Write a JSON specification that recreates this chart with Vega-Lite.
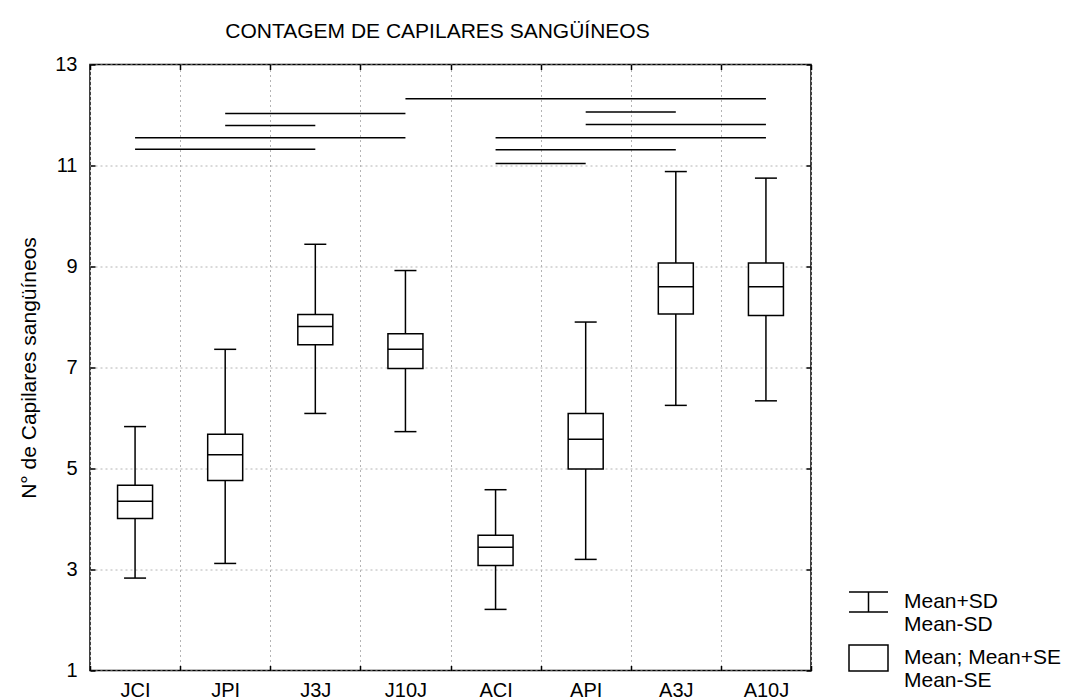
{
  "$schema": "https://vega.github.io/schema/vega-lite/v6.json",
  "width": 721,
  "height": 606,
  "autosize": "none",
  "padding": {"left": 90, "top": 64.5, "right": 255, "bottom": 28.5},
  "background": "white",
  "config": {
    "font": "Liberation Sans",
    "view": {"stroke": "black", "strokeWidth": 1.5},
    "axis": {
      "domain": false,
      "labelColor": "black",
      "labelFontSize": 20,
      "labelFont": "Liberation Sans",
      "tickColor": "black",
      "tickWidth": 1.5,
      "tickSize": -5,
      "gridColor": "#b4b4b4",
      "gridDash": [2, 3],
      "gridWidth": 1,
      "titleColor": "black",
      "titleFontWeight": "normal",
      "titleFontSize": 21
    }
  },
  "title": {
    "text": "CONTAGEM DE CAPILARES SANGÜÍNEOS",
    "fontSize": 21,
    "fontWeight": "normal",
    "color": "black",
    "anchor": "middle",
    "offset": 13,
    "dx": -13
  },
  "datasets": {
    "stats": [
      {"group": "JCI", "sdlo": 2.83, "selo": 4.01, "mean": 4.35, "sehi": 4.67, "sdhi": 5.83},
      {"group": "JPI", "sdlo": 3.12, "selo": 4.76, "mean": 5.27, "sehi": 5.68, "sdhi": 7.36},
      {"group": "J3J", "sdlo": 6.09, "selo": 7.45, "mean": 7.81, "sehi": 8.05, "sdhi": 9.44},
      {"group": "J10J", "sdlo": 5.73, "selo": 6.98, "mean": 7.36, "sehi": 7.67, "sdhi": 8.92},
      {"group": "ACI", "sdlo": 2.21, "selo": 3.08, "mean": 3.44, "sehi": 3.68, "sdhi": 4.58},
      {"group": "API", "sdlo": 3.2, "selo": 4.99, "mean": 5.58, "sehi": 6.09, "sdhi": 7.9},
      {"group": "A3J", "sdlo": 6.25, "selo": 8.06, "mean": 8.6, "sehi": 9.07, "sdhi": 10.88},
      {"group": "A10J", "sdlo": 6.34, "selo": 8.03, "mean": 8.6, "sehi": 9.07, "sdhi": 10.75}
    ],
    "sig": [
      {"from": "J10J", "to": "A10J", "y": 12.32},
      {"from": "JPI", "to": "J10J", "y": 12.03},
      {"from": "API", "to": "A3J", "y": 12.06},
      {"from": "JPI", "to": "J3J", "y": 11.79},
      {"from": "API", "to": "A10J", "y": 11.81},
      {"from": "JCI", "to": "J10J", "y": 11.55},
      {"from": "ACI", "to": "A10J", "y": 11.55},
      {"from": "JCI", "to": "J3J", "y": 11.32},
      {"from": "ACI", "to": "A3J", "y": 11.31},
      {"from": "ACI", "to": "API", "y": 11.04}
    ],
    "keys": []
  },
  "resolve": {"axis": {"x": "independent", "y": "independent"}},
  "layer": [
    {
      "data": {"name": "stats"},
      "mark": {"type": "rule", "color": "black", "strokeWidth": 1.5},
      "encoding": {
        "x": {
          "field": "group", "type": "nominal",
          "scale": {"domain": ["JCI", "JPI", "J3J", "J10J", "ACI", "API", "A3J", "A10J"], "paddingInner": 0, "paddingOuter": 0},
          "axis": {"orient": "bottom", "title": null, "labelAngle": 0, "tickBand": "extent", "grid": true, "labelPadding": 15}
        },
        "y": {
          "field": "sdlo", "type": "quantitative",
          "scale": {"domain": [1, 13], "nice": false, "zero": false},
          "axis": {"orient": "left", "title": "N° de Capilares sangüíneos", "values": [1, 3, 5, 7, 9, 11, 13], "grid": true, "labelPadding": 18, "titlePadding": 15}
        },
        "y2": {"field": "sdhi"}
      }
    },
    {
      "data": {"name": "stats"},
      "mark": {"type": "bar", "size": 35, "fill": "white", "stroke": "black", "strokeWidth": 1.5},
      "encoding": {
        "x": {"field": "group", "type": "nominal", "axis": null},
        "y": {"field": "selo", "type": "quantitative", "axis": null},
        "y2": {"field": "sehi"}
      }
    },
    {
      "data": {"name": "stats"},
      "mark": {"type": "tick", "orient": "horizontal", "size": 35, "thickness": 1.5, "color": "black", "opacity": 1},
      "encoding": {
        "x": {"field": "group", "type": "nominal", "axis": null},
        "y": {"field": "mean", "type": "quantitative", "axis": null}
      }
    },
    {
      "data": {"name": "stats"},
      "mark": {"type": "tick", "orient": "horizontal", "size": 22, "thickness": 1.5, "color": "black", "opacity": 1},
      "encoding": {
        "x": {"field": "group", "type": "nominal", "axis": null},
        "y": {"field": "sdhi", "type": "quantitative", "axis": null}
      }
    },
    {
      "data": {"name": "stats"},
      "mark": {"type": "tick", "orient": "horizontal", "size": 22, "thickness": 1.5, "color": "black", "opacity": 1},
      "encoding": {
        "x": {"field": "group", "type": "nominal", "axis": null},
        "y": {"field": "sdlo", "type": "quantitative", "axis": null}
      }
    },
    {
      "data": {"name": "sig"},
      "mark": {"type": "rule", "color": "black", "strokeWidth": 1.5},
      "encoding": {
        "x": {
          "field": "from", "type": "nominal",
          "axis": {"orient": "top", "title": null, "labels": false, "tickBand": "extent", "grid": false}
        },
        "x2": {"field": "to"},
        "y": {
          "field": "y", "type": "quantitative",
          "axis": {"orient": "right", "title": null, "labels": false, "values": [1, 3, 5, 7, 9, 11, 13], "grid": false}
        }
      }
    },
    {
      "data": {"name": "keys"},
      "mark": {"type": "point", "filled": false, "color": "black", "strokeWidth": 1.5},
      "encoding": {
        "shape": {
          "field": "k", "type": "nominal",
          "scale": {
            "domain": ["Mean+SD|Mean-SD", "Mean; Mean+SE|Mean-SE"],
            "range": ["M-1,-0.513H1M0,-0.513V0.513M-1,0.513H1", "M-1,-0.667H1V0.667H-1Z"]
          },
          "legend": {
            "title": null,
            "orient": "none",
            "legendX": 758,
            "legendY": 517,
            "padding": 0,
            "symbolSize": 1521,
            "symbolStrokeWidth": 1.5,
            "symbolStrokeColor": "black",
            "symbolFillColor": "white",
            "symbolOpacity": 1,
            "labelOffset": 15,
            "labelFontSize": 21,
            "labelColor": "black",
            "labelLimit": 0,
            "labelExpr": "split(datum.label, '|')",
            "rowPadding": 2,
            "encode": {"labels": {"update": {"lineHeight": {"value": 26}}}}
          }
        }
      }
    }
  ]
}
